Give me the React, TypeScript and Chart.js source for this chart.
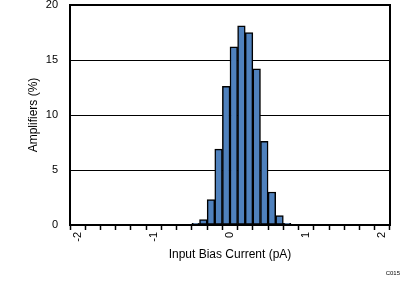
import React, { useEffect, useRef } from "react";
import { Chart, registerables } from "chart.js";

Chart.register(...registerables);

const binCenters = [-0.45, -0.35, -0.25, -0.15, -0.05, 0.05, 0.15, 0.25, 0.35, 0.45, 0.55, 0.65, 0.75];
const amplifiersPct = [0.15, 0.5, 2.3, 6.9, 12.6, 16.2, 18.1, 17.5, 14.2, 7.6, 3.0, 0.85, 0.15];
const xMajorTicks = [-2, -1, 0, 1, 2];
const yTicks = [0, 5, 10, 15, 20];

const FONT = "'Liberation Sans', Arial, sans-serif";

export default function App() {
  const ref = useRef<HTMLCanvasElement>(null);
  useEffect(() => {
    if (!ref.current) return;
    const boxPlugin = {
      id: "box",
      afterDatasetsDraw(chart: any) {
        const { ctx, chartArea: a } = chart;
        ctx.save();
        ctx.strokeStyle = "#000";
        ctx.lineWidth = 2;
        ctx.strokeRect(a.left, a.top, a.right - a.left, a.bottom - a.top);
        ctx.restore();
      },
      afterDraw(chart: any) {
        const { ctx } = chart;
        ctx.save();
        ctx.fillStyle = "#000";
        ctx.font = `6px ${FONT}`;
        ctx.textAlign = "right";
        ctx.textBaseline = "middle";
        ctx.fillText("C015", 400, 273);
        ctx.restore();
      },
    };
    const chart = new Chart(ref.current, {
      type: "bar",
      data: {
        datasets: [
          {
            data: binCenters.map((x, i) => ({ x, y: amplifiersPct[i] })),
            backgroundColor: "#4F81BD",
            borderColor: "#000",
            borderWidth: 1.5,
            borderSkipped: false,
            barPercentage: 1,
            categoryPercentage: 1,
          },
        ],
      },
      options: {
        animation: false,
        responsive: false,
        maintainAspectRatio: false,
        layout: { padding: { top: 5, right: 16, left: 0, bottom: 0 } },
        plugins: { legend: { display: false }, tooltip: { enabled: false } },
        scales: {
          x: {
            type: "linear",
            min: -2,
            max: 2,
            afterFit: (s: any) => {
              s.height = 57;
            },
            ticks: {
              stepSize: 0.2,
              autoSkip: false,
              minRotation: 90,
              maxRotation: 90,
              padding: 2,
              color: "#000",
              font: { family: FONT, size: 11 },
              callback: (v: any) => {
                const n = Number(v);
                const m = xMajorTicks.find((t) => Math.abs(t - n) < 1e-6);
                return m === undefined ? "" : String(m);
              },
            },
            grid: {
              drawOnChartArea: false,
              drawTicks: true,
              tickLength: 5,
              tickColor: "#000",
              tickWidth: 1.5,
            },
            border: { display: true, color: "#000", width: 2 },
            title: {
              display: true,
              text: "Input Bias Current (pA)",
              color: "#000",
              font: { family: FONT, size: 12 },
              padding: { top: 0, bottom: 20 },
            },
          },
          y: {
            type: "linear",
            min: 0,
            max: 20,
            afterFit: (s: any) => {
              s.width = 70;
            },
            afterBuildTicks: (s: any) => {
              s.ticks = yTicks.map((v) => ({ value: v }));
            },
            ticks: {
              padding: 0,
              color: "#000",
              font: { family: FONT, size: 11, lineHeight: 0.9 },
            },
            grid: {
              color: "#000",
              lineWidth: 1,
              drawTicks: true,
              tickLength: 12,
              tickColor: "rgba(0,0,0,0)",
            },
            border: { display: true, color: "#000", width: 2 },
            title: {
              display: true,
              text: "Amplifiers (%)",
              color: "#000",
              font: { family: FONT, size: 12 },
              padding: { top: 26, bottom: 0 },
            },
          },
        },
      },
      plugins: [boxPlugin],
    });
    return () => chart.destroy();
  }, []);
  return (
    <div style={{ position: "fixed", left: 0, top: 0, width: 406, height: 282, background: "#fff" }}>
      <canvas ref={ref} width={406} height={282} style={{ display: "block" }} />
    </div>
  );
}
